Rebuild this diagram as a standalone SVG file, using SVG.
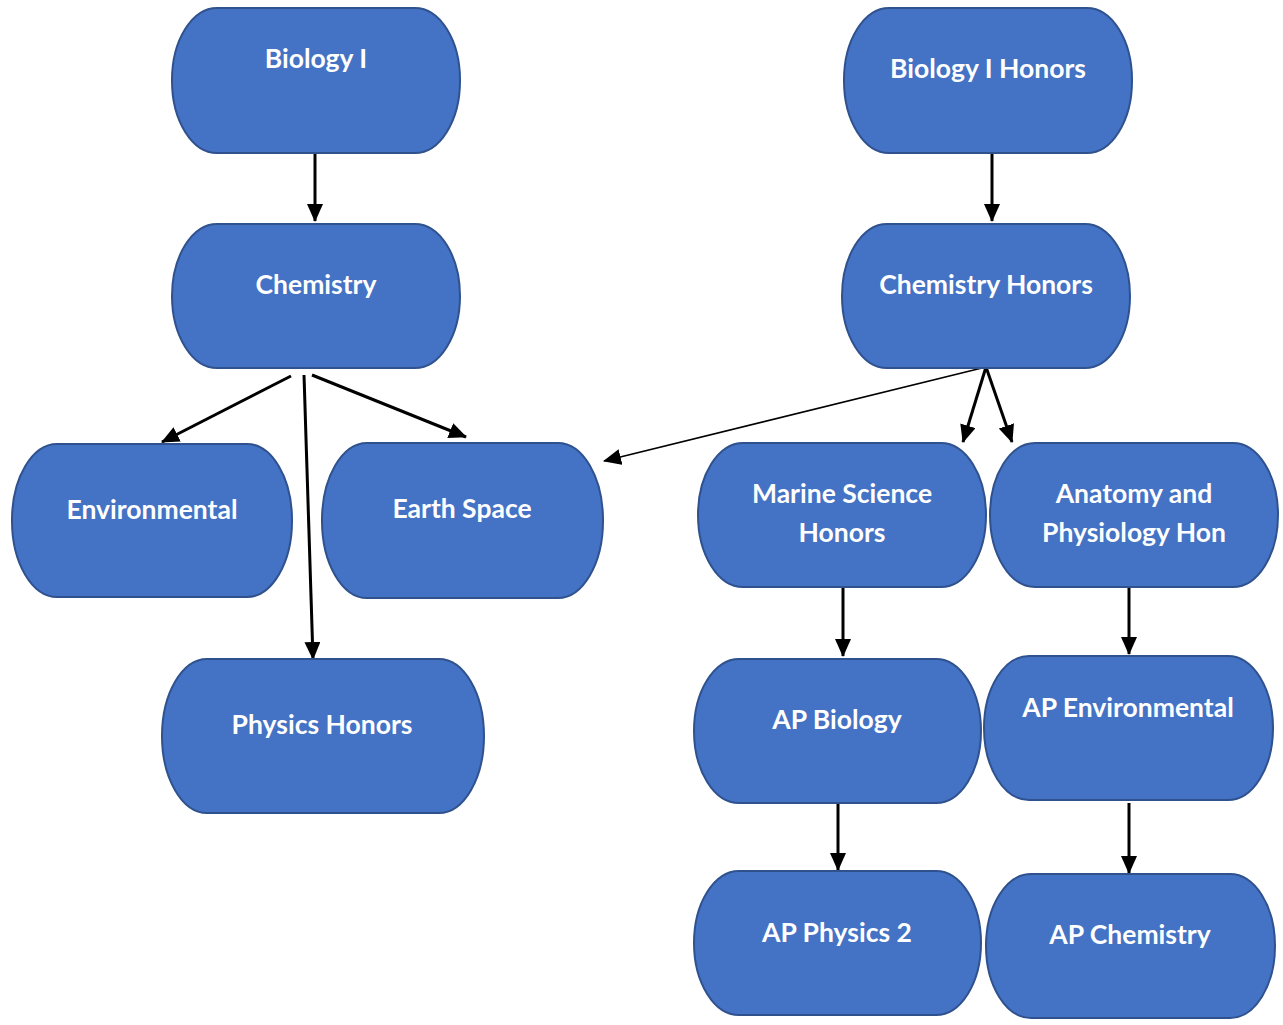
<svg xmlns="http://www.w3.org/2000/svg" width="1283" height="1025" viewBox="0 0 1283 1025">
<style>
.n{fill:#4472C4;stroke:#2F528F;stroke-width:2}
.t{fill:#ffffff;font-family:Lato,"Open Sans","Liberation Sans",sans-serif;font-weight:bold;font-size:26.5px;text-anchor:middle}
.c{stroke:#000;stroke-width:3;fill:none}
.thin{stroke:#000;stroke-width:1.5;fill:none}
</style>
<defs>
<marker id="ah" markerUnits="userSpaceOnUse" markerWidth="18" markerHeight="16" refX="17" refY="8" orient="auto">
<path d="M0,0 L18,8 L0,16 z" fill="#000"/>
</marker>
</defs>
<rect width="1283" height="1025" fill="#fff"/>
<g id="connectors">
<line class="c" x1="315" y1="153" x2="315" y2="221" marker-end="url(#ah)"/>
<line class="c" x1="992" y1="153" x2="992" y2="221" marker-end="url(#ah)"/>
<line class="c" x1="291" y1="376" x2="162" y2="442" marker-end="url(#ah)"/>
<line class="c" x1="304" y1="375" x2="313" y2="659" marker-end="url(#ah)"/>
<line class="c" x1="312" y1="375" x2="466" y2="437" marker-end="url(#ah)"/>
<line class="thin" x1="986" y1="367" x2="604" y2="461" marker-end="url(#ah)"/>
<line class="c" x1="986" y1="367" x2="963" y2="442" marker-end="url(#ah)"/>
<line class="c" x1="986" y1="367" x2="1012" y2="442" marker-end="url(#ah)"/>
<line class="c" x1="843" y1="587" x2="843" y2="656" marker-end="url(#ah)"/>
<line class="c" x1="1129" y1="588" x2="1129" y2="654" marker-end="url(#ah)"/>
<line class="c" x1="838" y1="803" x2="838" y2="870" marker-end="url(#ah)"/>
<line class="c" x1="1129" y1="803" x2="1129" y2="873" marker-end="url(#ah)"/>
</g>
<g id="n1"><rect class="n" x="172" y="8" width="288" height="145" rx="45" ry="72"/><text class="t" x="316" y="68">Biology I</text></g>
<g id="n2"><rect class="n" x="844" y="8" width="288" height="145" rx="45" ry="72"/><text class="t" x="988" y="78">Biology I Honors</text></g>
<g id="n3"><rect class="n" x="172" y="224" width="288" height="144" rx="45" ry="72"/><text class="t" x="316" y="294">Chemistry</text></g>
<g id="n4"><rect class="n" x="842" y="224" width="288" height="144" rx="45" ry="72"/><text class="t" x="986" y="294">Chemistry Honors</text></g>
<g id="n5"><rect class="n" x="12" y="444" width="280" height="153" rx="45" ry="76"/><text class="t" x="152" y="519">Environmental</text></g>
<g id="n6"><rect class="n" x="322" y="443" width="281" height="155" rx="45" ry="77"/><text class="t" x="462" y="518">Earth Space</text></g>
<g id="n7"><rect class="n" x="698" y="443" width="288" height="144" rx="45" ry="72"/><text class="t" x="842" y="503">Marine Science</text><text class="t" x="842" y="542">Honors</text></g>
<g id="n8"><rect class="n" x="990" y="443" width="288" height="144" rx="45" ry="72"/><text class="t" x="1134" y="503">Anatomy and</text><text class="t" x="1134" y="542">Physiology Hon</text></g>
<g id="n9"><rect class="n" x="162" y="659" width="322" height="154" rx="45" ry="77"/><text class="t" x="322" y="734">Physics Honors</text></g>
<g id="n10"><rect class="n" x="694" y="659" width="287" height="144" rx="45" ry="72"/><text class="t" x="837" y="729">AP Biology</text></g>
<g id="n11"><rect class="n" x="984" y="656" width="289" height="144" rx="45" ry="72"/><text class="t" x="1128" y="717">AP Environmental</text></g>
<g id="n12"><rect class="n" x="694" y="871" width="287" height="144" rx="45" ry="72"/><text class="t" x="837" y="942">AP Physics 2</text></g>
<g id="n13"><rect class="n" x="986" y="874" width="289" height="144" rx="45" ry="72"/><text class="t" x="1130" y="944">AP Chemistry</text></g>
</svg>
